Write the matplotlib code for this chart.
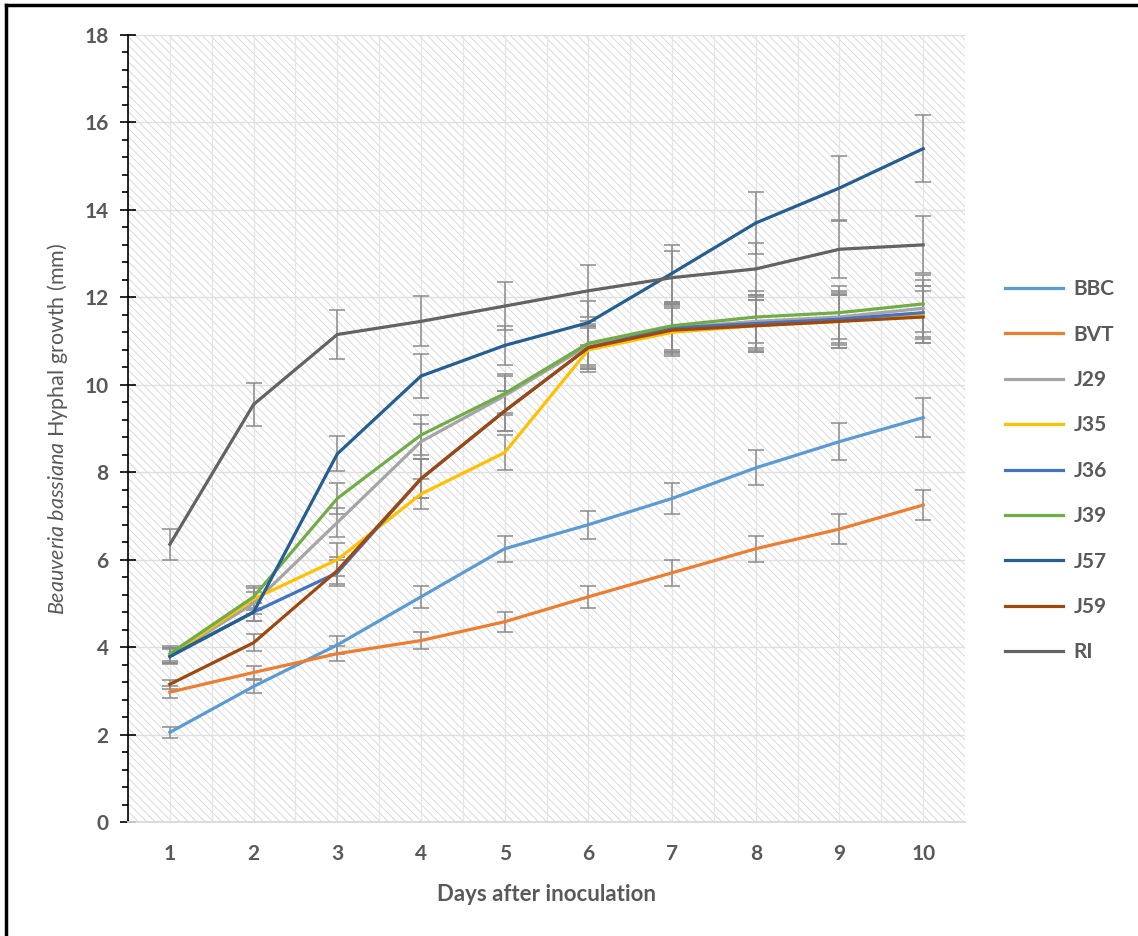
import numpy as np
import matplotlib
matplotlib.use("Agg")
import matplotlib.pyplot as plt
from matplotlib.patches import Rectangle
from matplotlib.lines import Line2D
from matplotlib.ticker import MultipleLocator

# data
days = [1, 2, 3, 4, 5, 6, 7, 8, 9, 10]

BBC = [2.05, 3.1, 4.05, 5.15, 6.25, 6.8, 7.4, 8.1, 8.7, 9.25]
BVT = [2.97, 3.42, 3.85, 4.15, 4.58, 5.15, 5.7, 6.25, 6.7, 7.25]
J29 = [3.8, 5.0, 6.85, 8.7, 9.75, 10.9, 11.3, 11.45, 11.55, 11.75]
J35 = [3.8, 5.1, 6.0, 7.5, 8.45, 10.8, 11.2, 11.35, 11.45, 11.6]
J36 = [3.8, 4.8, 5.7, 7.85, 9.4, 10.85, 11.3, 11.4, 11.5, 11.65]
J39 = [3.85, 5.15, 7.4, 8.85, 9.8, 10.95, 11.35, 11.55, 11.65, 11.85]
J57 = [3.78, 4.8, 8.42, 10.2, 10.9, 11.42, 12.55, 13.7, 14.5, 15.4]
J59 = [3.15, 4.1, 5.75, 7.85, 9.4, 10.85, 11.25, 11.35, 11.45, 11.55]
RI = [6.35, 9.55, 11.15, 11.45, 11.8, 12.15, 12.45, 12.65, 13.1, 13.2]

BBC_err = [0.12, 0.15, 0.2, 0.25, 0.3, 0.32, 0.35, 0.4, 0.43, 0.45]
BVT_err = [0.14, 0.15, 0.17, 0.2, 0.23, 0.25, 0.3, 0.3, 0.35, 0.35]
J29_err = [0.17, 0.25, 0.33, 0.4, 0.45, 0.5, 0.55, 0.6, 0.6, 0.65]
J35_err = [0.17, 0.25, 0.38, 0.35, 0.4, 0.5, 0.55, 0.6, 0.6, 0.65]
J36_err = [0.17, 0.2, 0.3, 0.45, 0.45, 0.5, 0.55, 0.6, 0.6, 0.6]
J39_err = [0.17, 0.25, 0.35, 0.45, 0.45, 0.5, 0.55, 0.6, 0.6, 0.65]
J57_err = [0.17, 0.2, 0.4, 0.5, 0.45, 0.5, 0.65, 0.7, 0.73, 0.76]
J59_err = [0.1, 0.2, 0.3, 0.45, 0.45, 0.5, 0.55, 0.6, 0.6, 0.6]
RI_err = [0.35, 0.5, 0.55, 0.57, 0.55, 0.6, 0.6, 0.6, 0.65, 0.65]

names = ["BBC", "BVT", "J29", "J35", "J36", "J39", "J57", "J59", "RI"]
values = [BBC, BVT, J29, J35, J36, J39, J57, J59, RI]
errors = [BBC_err, BVT_err, J29_err, J35_err, J36_err, J39_err, J57_err, J59_err, RI_err]
colors = ["#5B9BD5", "#ED7D31", "#A5A5A5", "#FFC000", "#4472C4",
          "#70AD47", "#255E91", "#9E480E", "#636363"]

txt = "#595959"
plt.rcParams["font.family"] = ["Lato", "DejaVu Sans"]
plt.rcParams["mathtext.fontset"] = "custom"
plt.rcParams["mathtext.it"] = "Lato:italic"
plt.rcParams["mathtext.rm"] = "Lato"
plt.rcParams["hatch.linewidth"] = 0.6

fig = plt.figure(figsize=(11.38, 9.36), dpi=100)
ax = fig.add_axes([0.1125, 0.1218, 0.7355, 0.8408])

# hatched plot area
ax.add_patch(Rectangle((0, 0), 1, 1, transform=ax.transAxes, facecolor="white",
                       edgecolor="#d4d4d4", hatch="\\\\\\\\", linewidth=0, zorder=0))

for n, v, e, c in zip(names, values, errors, colors):
    ax.errorbar(days, v, yerr=e, color=c, lw=2.3, ecolor="#8c8c8c",
                elinewidth=1.1, capsize=6, capthick=1.1, label=n, zorder=3)

ax.set_xlim(0.5, 10.5)
ax.set_ylim(0, 18)
ax.set_xticks(days)
ax.xaxis.set_minor_locator(MultipleLocator(1, offset=0.5))
ax.yaxis.set_major_locator(MultipleLocator(2))
ax.yaxis.set_minor_locator(MultipleLocator(0.4))

ax.grid(True, which="major", axis="y", color="#e0e0e0", lw=1, zorder=1)
ax.grid(True, which="both", axis="x", color="#e6e6e6", lw=1, zorder=1)
ax.set_axisbelow(True)

for s in ["top", "right"]:
    ax.spines[s].set_visible(False)
ax.spines["bottom"].set_color("#d9d9d9")
ax.spines["bottom"].set_linewidth(1.3)
ax.spines["left"].set_color("black")
ax.spines["left"].set_linewidth(1.2)

ax.tick_params(axis="x", which="both", length=0, pad=16, labelsize=15,
               labelcolor=txt)
ax.tick_params(axis="y", which="major", direction="inout", length=12, width=1.2,
               pad=8, labelsize=15, labelcolor=txt)
ax.tick_params(axis="y", which="minor", direction="out", length=4, width=1.2)
for lb in ax.get_xticklabels() + ax.get_yticklabels():
    lb.set_fontweight("bold")

ax.set_xlabel("Days after inoculation", fontsize=16, fontweight="bold",
              color=txt, labelpad=14)
ax.set_ylabel(r"$\it{Beauveria}$ $\it{bassiana}$ Hyphal growth (mm)",
              fontsize=15.5, color=txt, labelpad=10)

# legend without error bar glyphs
handles = [Line2D([], [], color=c, lw=2.3) for c in colors]
leg = fig.legend(handles, names, loc="center left", bbox_to_anchor=(0.883, 0.497),
                 frameon=False, fontsize=15, handlelength=2.8, handletextpad=0.5,
                 labelspacing=1.22, borderpad=0, borderaxespad=0)
for t in leg.get_texts():
    t.set_color(txt)
    t.set_fontweight("bold")

# figure border (top and left only)
fig.add_artist(Line2D([0.0055, 1.0], [0.9947, 0.9947], color="black", lw=2.5,
                      transform=fig.transFigure))
fig.add_artist(Line2D([0.0055, 0.0055], [0.0, 0.9947], color="black", lw=2.5,
                      transform=fig.transFigure))

fig.savefig("out.png", dpi=100)
